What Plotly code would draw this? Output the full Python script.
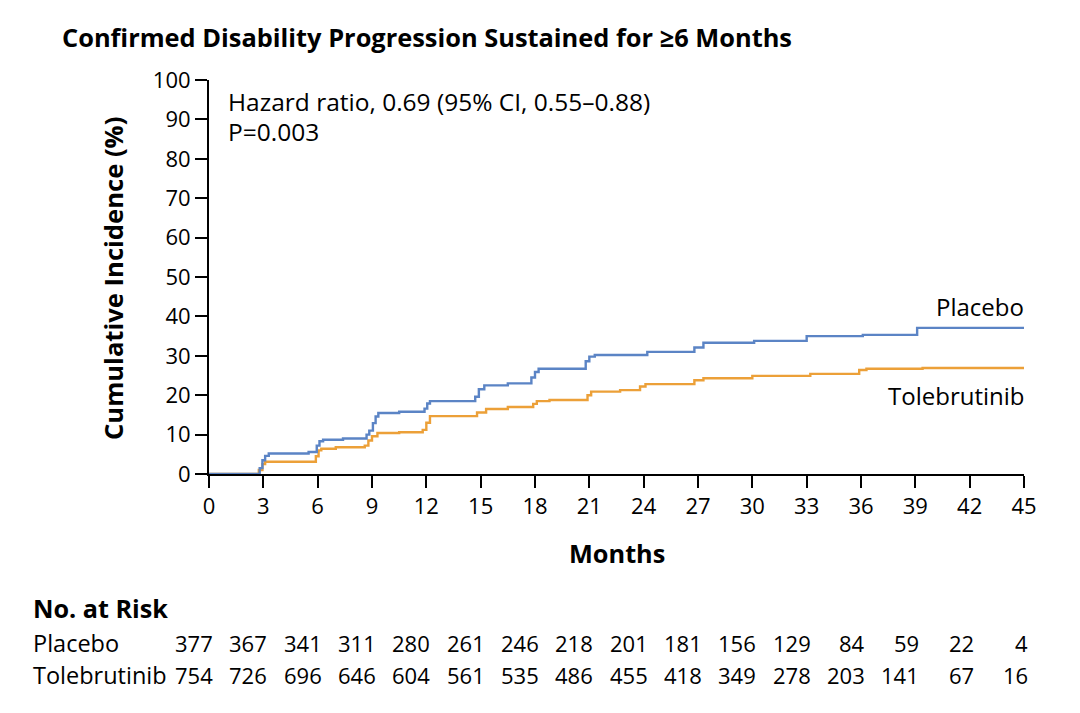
import plotly.graph_objects as go

# ---- data ----
placebo_t = [0, 2.8, 2.95, 3.1, 3.3, 5.5, 5.95, 6.1, 6.3, 7.4, 8.7, 8.85, 9.05, 9.2, 9.35, 10.5, 11.9, 12.05, 12.2,
             14.7, 14.9, 15.2, 16.5, 17.8, 18.0, 18.2, 20.8, 21.0, 21.3, 24.2, 26.8, 27.3, 30.1, 33.0, 36.1, 39.1, 45]
placebo_v = [0, 1.5, 3.5, 4.6, 5.2, 5.6, 7.2, 8.3, 8.7, 9.0, 10.0, 11.0, 12.9, 14.6, 15.5, 15.8, 16.6, 17.9, 18.5,
             19.6, 21.5, 22.5, 23.0, 24.5, 25.9, 26.7, 28.6, 29.8, 30.2, 31.0, 32.1, 33.3, 33.8, 35.0, 35.3, 37.1, 37.1]

tole_t = [0, 2.75, 2.95, 3.1, 5.9, 6.05, 6.2, 7.0, 8.6, 8.8, 9.0, 9.3, 10.5, 11.8, 12.0, 12.2, 14.8, 15.3,
          16.5, 17.9, 18.1, 18.8, 20.9, 21.1, 22.7, 23.8, 24.1, 26.8, 27.3, 30.0, 33.2, 35.9, 36.3, 39.4, 45]
tole_v = [0, 1.0, 2.5, 3.1, 4.5, 6.0, 6.4, 6.8, 7.2, 8.5, 9.6, 10.4, 10.6, 11.2, 13.0, 14.7, 15.6, 16.5,
          17.0, 17.8, 18.5, 18.8, 20.0, 20.9, 21.3, 22.2, 22.8, 23.8, 24.3, 24.9, 25.4, 26.4, 26.7, 26.9, 26.9]

months_ticks = list(range(0, 46, 3))
risk_placebo = [377, 367, 341, 311, 280, 261, 246, 218, 201, 181, 156, 129, 84, 59, 22, 4]
risk_tole = [754, 726, 696, 646, 604, 561, 535, 486, 455, 418, 349, 278, 203, 141, 67, 16]

BLUE = "#5b84c5"
ORANGE = "#eca038"
FONT = "Open Sans"
NUMFONT = "Liberation Sans Narrow, Open Sans"

fig = go.Figure()
fig.add_trace(go.Scatter(x=tole_t, y=tole_v, mode="lines", line=dict(color=ORANGE, width=2.4, shape="hv"),
                         name="Tolebrutinib", showlegend=False, hoverinfo="skip"))
fig.add_trace(go.Scatter(x=placebo_t, y=placebo_v, mode="lines", line=dict(color=BLUE, width=2.4, shape="hv"),
                         name="Placebo", showlegend=False, hoverinfo="skip"))

W, H = 1080, 713
L, R, T, B = 209, 56, 80, 239
ph = H - T - B


def py(pix):
    return (H - B - pix) / ph


def px(pix):
    return (pix - L) / (W - L - R)


def txt(s, x, y, size, xref="paper", xanchor="left", fam=FONT, **kw):
    d = dict(text=s, x=x, y=y, xref=xref, yref="paper", xanchor=xanchor, yanchor="middle", showarrow=False,
             font=dict(size=size, family=fam, color="black"))
    d.update(kw)
    return d


ann = [
    txt("<b>Confirmed Disability Progression Sustained for ≥6 Months</b>", px(60), py(37), 25.4),
    txt("Hazard ratio, 0.69 (95% CI, 0.55–0.88)", px(226), py(101), 24.5),
    txt("P=0.003", px(226), py(132), 24.5),
    txt("Placebo", 45, py(306), 24, xref="x", xanchor="right", xshift=2),
    txt("Tolebrutinib", 45, py(395), 24, xref="x", xanchor="right", xshift=2),
    txt("<b>Months</b>", 22.5, py(553), 25.3, xref="x", xanchor="center"),
    txt("<b>Cumulative Incidence (%)</b>", px(113), py(279), 25.6, xanchor="center", textangle=-90),
    txt("<b>No. at Risk</b>", px(31), py(608), 25.2),
    txt("Placebo", px(31), py(643), 23.5),
    txt("Tolebrutinib", px(31), py(675), 23.5),
]
for m, a, b in zip(months_ticks, risk_placebo, risk_tole):
    ann.append(txt(str(a), m, py(643), 22, xref="x", xanchor="right", fam=NUMFONT, xshift=6))
    ann.append(txt(str(b), m, py(675), 22, xref="x", xanchor="right", fam=NUMFONT, xshift=6))

fig.update_layout(
    width=W, height=H,
    margin=dict(l=L, r=R, t=T, b=B),
    paper_bgcolor="white", plot_bgcolor="white",
    font=dict(family=FONT, color="black"),
    annotations=ann,
    xaxis=dict(range=[0, 45], tickvals=months_ticks, showgrid=False, zeroline=False,
               showline=True, linecolor="black", linewidth=2, ticks="outside", ticklen=12,
               tickwidth=2, tickcolor="black", tickfont=dict(size=22, family=FONT), ticklabelstandoff=0),
    yaxis=dict(range=[0, 100], tickvals=list(range(0, 101, 10)), showgrid=False, zeroline=False,
               showline=True, linecolor="black", linewidth=2, ticks="outside", ticklen=12,
               tickwidth=2, tickcolor="black", tickfont=dict(size=22, family=FONT), ticklabelstandoff=0),
)

fig.write_html("out.html")
